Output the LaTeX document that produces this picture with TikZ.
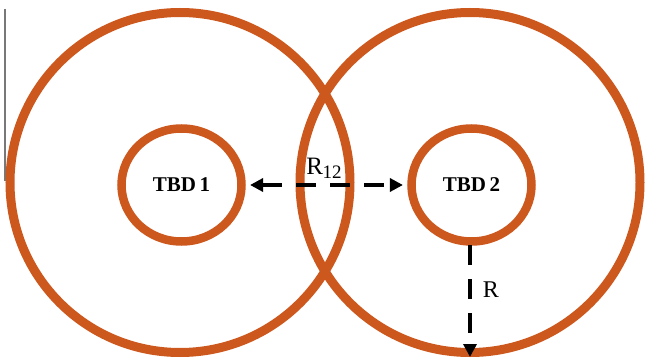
\documentclass[tikz,border=0pt]{standalone}
\usepackage{fontspec}
\setmainfont{Liberation Serif}
\usetikzlibrary{shapes.geometric,arrows.meta}
\definecolor{ringorange}{RGB}{204,88,30}
\definecolor{edgegray}{RGB}{120,120,120}
\tikzset{
  bigring/.style={circle,draw=ringorange,line width=9pt,minimum size=340pt,inner sep=0pt},
  smallring/.style={ellipse,draw=ringorange,line width=8.5pt,minimum width=120pt,minimum height=113pt,inner sep=0pt,
    font=\fontsize{21}{21}\selectfont\bfseries},
  dasharrow/.style={line width=4.5pt,dash pattern=on 20pt off 14pt,-{Triangle[length=13pt,width=13pt]}},
  lbl/.style={inner sep=0pt}
}
\begin{document}
\begin{tikzpicture}[x=1pt,y=-1pt]
\useasboundingbox (0,0) rectangle (646,361);
\draw[edgegray,line width=2pt] (4.5,9) -- (4.5,181);
\node[bigring] (big1) at (180,182.5) {};
\node[bigring] (big2) at (470,182.5) {};
\node[smallring] (in1) at (181.5,185) {TBD\,1};
\node[smallring] (in2) at (471.5,185) {TBD\,2};
\coordinate (rend) at (470,357);
\coordinate (s2) at (470,245);
\draw[dasharrow,{Triangle[length=13pt,width=13pt]}-{Triangle[length=13pt,width=13pt]},shorten <=4.3pt,shorten >=4.3pt] (in1.east) -- (in2.west);
\draw[dasharrow] (s2) -- (rend);
\node[lbl,font=\fontsize{25}{25}\selectfont] (r12) at (324,168) {R\kern-0.5pt\raisebox{-4pt}{\fontsize{19}{19}\selectfont 12}};
\node[lbl,font=\fontsize{24}{24}\selectfont] (rlab) at (491,290) {R};
\end{tikzpicture}
\end{document}
